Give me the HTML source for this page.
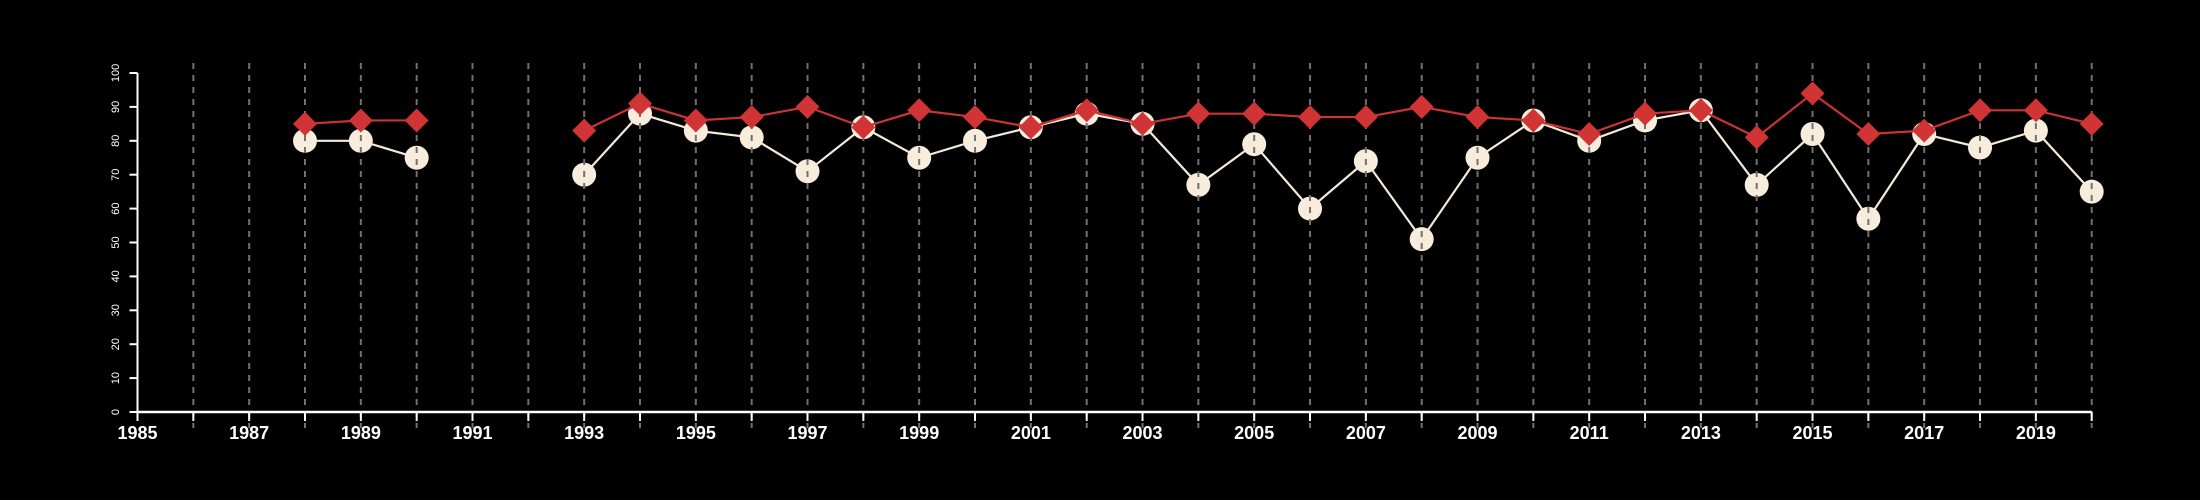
<!DOCTYPE html>
<html><head><meta charset="utf-8"><style>
html,body{margin:0;padding:0;background:#000;}
svg{display:block;}
text{font-family:"Liberation Sans",Arial,sans-serif;fill:#fff;}
</style></head><body>
<svg id="chart" width="2200" height="500" viewBox="0 0 2200 500" xmlns="http://www.w3.org/2000/svg">
<rect width="2200" height="500" fill="#000"/>
<g id="white-layer"></g>
<g id="grid"></g>
<g id="red-layer"></g>
<g id="axes"></g>
</svg>
<script>
const years = [1988,1989,1990,1993,1994,1995,1996,1997,1998,1999,2000,2001,2002,2003,2004,2005,2006,2007,2008,2009,2010,2011,2012,2013,2014,2015,2016,2017,2018,2019,2020];
const whiteValues = [80,80,75,70,88,83,81,71,84,75,80,84,88,85,67,79,60,74,51,75,86,80,86,89,67,82,57,82,78,83,65];
const redValues = [85,86,86,83,91,86,87,90,84,89,87,84,89,85,88,88,87,87,90,87,86,82,88,89,81,94,82,83,89,89,85];
const yTicks = [0,10,20,30,40,50,60,70,80,90,100];
const xMin = 1985, xMax = 2020;

const NS = "http://www.w3.org/2000/svg";
const X0 = 137.5, X1 = 2091.7, Y0 = 412, Y1 = 73;
function xs(v){ return X0 + (v - xMin) / (xMax - xMin) * (X1 - X0); }
function ys(v){ return Y0 - v / 100 * (Y0 - Y1); }
function mk(tag, attrs, parent){
  const e = document.createElementNS(NS, tag);
  for (const k in attrs) e.setAttribute(k, attrs[k]);
  parent.appendChild(e);
  return e;
}
const wl = document.getElementById('white-layer');
const gl = document.getElementById('grid');
const rl = document.getElementById('red-layer');
const ax = document.getElementById('axes');

function segments(vals){
  const segs = []; let cur = [];
  for (let i = 0; i < years.length; i++){
    if (i > 0 && years[i] - years[i-1] > 1){ segs.push(cur); cur = []; }
    cur.push([xs(years[i]), ys(vals[i])]);
  }
  segs.push(cur);
  return segs;
}

segments(whiteValues).forEach(s => {
  const p = mk('polyline', {points: s.map(q => q.join(',')).join(' '), fill: 'none', stroke: '#f5ead8', 'stroke-width': 2.2}, wl);
  
  
});
years.forEach((yr, i) => {
  const c = mk('ellipse', {cx: xs(yr), cy: ys(whiteValues[i]), rx: 12, ry: 12, fill: '#f8ecdc'}, wl);
  
  
});

for (let yr = xMin + 1; yr <= xMax; yr++){
  const l = mk('line', {x1: xs(yr), x2: xs(yr), y1: 63, y2: 428, stroke: '#707070', 'stroke-width': 2, 'stroke-dasharray': '6,6'}, gl);
  
  
}

segments(redValues).forEach(s => {
  const p = mk('polyline', {points: s.map(q => q.join(',')).join(' '), fill: 'none', stroke: '#cc3333', 'stroke-width': 2.2}, rl);
  
  
});
years.forEach((yr, i) => {
  const x = xs(yr), y = ys(redValues[i]), r = 12;
  const d = mk('polygon', {points: `${x},${y-r} ${x+r},${y} ${x},${y+r} ${x-r},${y}`, fill: '#d03434'}, rl);
  
  
});

const ya = mk('line', {x1: X0, x2: X0, y1: Y1, y2: Y0, stroke: '#fff', 'stroke-width': 2}, ax);


yTicks.forEach(t => {
  const tk = mk('line', {x1: X0 - 8, x2: X0, y1: ys(t), y2: ys(t), stroke: '#fff', 'stroke-width': 2}, ax);
  
  
  const tx = mk('text', {x: 0, y: 0, 'font-size': 11, 'text-anchor': 'middle', transform: `translate(119,${ys(t)}) rotate(-90)`}, ax);
  tx.textContent = t;
  
  
});
const xa = mk('line', {x1: X0, x2: X1, y1: Y0, y2: Y0, stroke: '#fff', 'stroke-width': 2.5}, ax);


for (let yr = xMin; yr <= xMax; yr++){
  const tk = mk('line', {x1: xs(yr), x2: xs(yr), y1: Y0, y2: Y0 + 9, stroke: '#fff', 'stroke-width': 2}, ax);
  
  
  if ((yr - xMin) % 2 === 0){
    const tx = mk('text', {x: xs(yr), y: 439, 'font-size': 18, 'font-weight': 'bold', 'text-anchor': 'middle'}, ax);
    tx.textContent = yr;
    
    
  }
}
</script>
</body></html>
